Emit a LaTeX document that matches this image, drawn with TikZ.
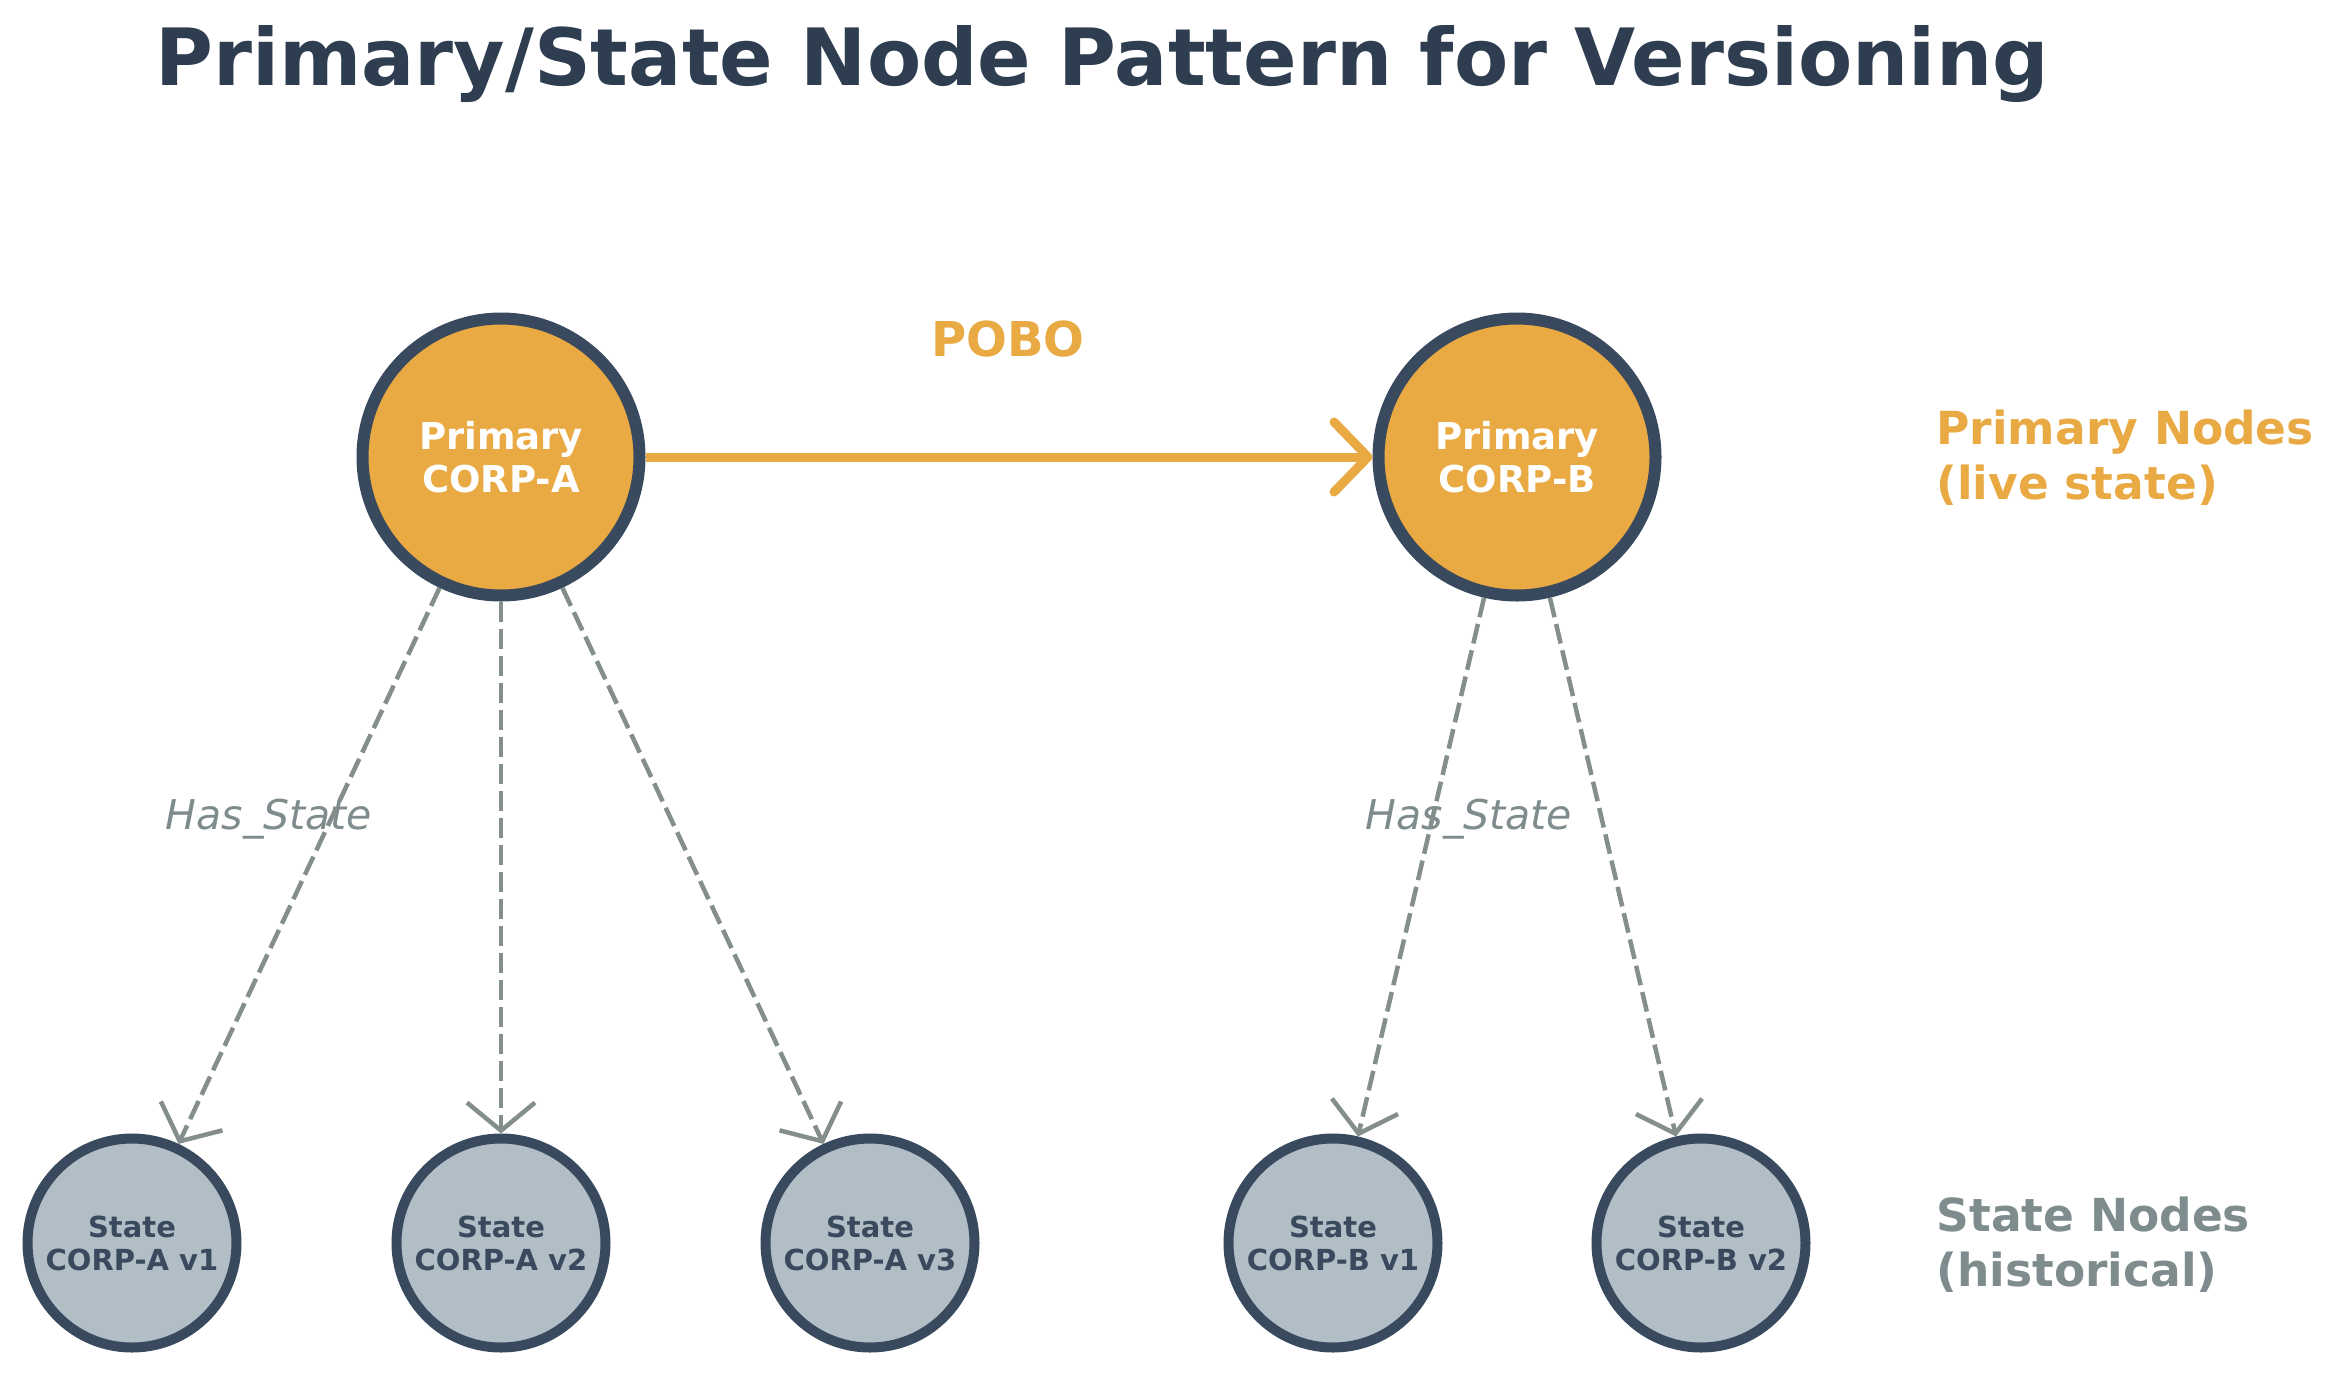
\documentclass[tikz,border=0pt]{standalone}
\usepackage{fontspec}
\setmainfont{DejaVu Sans}
\usetikzlibrary{arrows.meta}
\definecolor{orng}{HTML}{E9A943}
\definecolor{rim}{HTML}{394A5E}
\definecolor{stfill}{HTML}{B2BEC5}
\definecolor{gry}{HTML}{848E8C}
\definecolor{lblgry}{HTML}{7F8C8D}
\definecolor{ttl}{HTML}{2E3E50}
\begin{document}
\begin{tikzpicture}[x=1pt,y=-1pt,
  primary/.style={circle, fill=orng, draw=rim, line width=12pt, minimum size=277pt, inner sep=0pt, align=center, text=white, font=\fontsize{37}{43}\selectfont\bfseries},
  statenode/.style={circle, fill=stfill, draw=rim, line width=10pt, minimum size=209pt, inner sep=0pt, align=center, text=rim, font=\fontsize{29}{33}\selectfont\bfseries},
  hasstate/.style={draw=gry, dash pattern=on 20pt off 7pt, line width=4.5pt, -{Straight Barb[length=28pt,width=68pt]}},
  pobo/.style={draw=orng, line width=9pt, -{Straight Barb[length=34pt,width=70pt,round]}},
  edgelbl/.style={text=lblgry, font=\fontsize{41}{48}\selectfont\itshape},
  sidelbl/.style={anchor=west, align=left, font=\fontsize{45.5}{55}\selectfont\bfseries}
]
\fill[white] (0,0) rectangle (2332,1374);
\useasboundingbox (0,0) rectangle (2332,1374);

\node[anchor=base, text=ttl, font=\fontsize{79}{90}\selectfont\bfseries] (title) at (1102,85) {Primary/State Node Pattern for Versioning};

\node[primary] (A) at (501,457) {Primary\\CORP-A};
\node[primary] (B) at (1517,457) {Primary\\CORP-B};

\node[statenode] (a1) at (132,1243) {State\\CORP-A v1};
\node[statenode] (a2) at (501,1243) {State\\CORP-A v2};
\node[statenode] (a3) at (870,1243) {State\\CORP-A v3};
\node[statenode] (b1) at (1333,1243) {State\\CORP-B v1};
\node[statenode] (b2) at (1701,1243) {State\\CORP-B v2};

\node[edgelbl] (hs1) at (269,819) {Has\_State};
\node[edgelbl] (hs2) at (1469,819) {Has\_State};

\draw[hasstate] (A) -- (a1);
\draw[hasstate] (A) -- (a2);
\draw[hasstate] (A) -- (a3);
\draw[hasstate] (B) -- (b1);
\draw[hasstate] (B) -- (b2);

\draw[pobo] (A) -- (B);
\node[text=orng, font=\fontsize{48}{56}\selectfont\bfseries] (pobolbl) at (1008,339) {POBO};

\node[sidelbl, text=orng] (plbl) at (1933,458) {Primary Nodes\\(live state)};
\node[sidelbl, text=lblgry] (slbl) at (1933,1245) {State Nodes\\(historical)};
\end{tikzpicture}
\end{document}
